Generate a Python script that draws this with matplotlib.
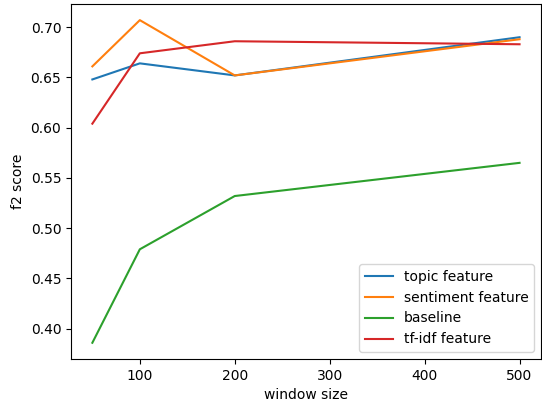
import matplotlib
matplotlib.use('Agg')
import matplotlib.pyplot as plt

window_sizes = [50, 100, 200, 500]
topic = [0.648, 0.664, 0.652, 0.690]
sentiment = [0.661, 0.707, 0.652, 0.688]
baseline = [0.386, 0.479, 0.532, 0.565]
tfidf = [0.604, 0.674, 0.686, 0.683]

fig, ax = plt.subplots(figsize=(5.42, 4.01), dpi=100)
ax.plot(window_sizes, topic, label='topic feature')
ax.plot(window_sizes, sentiment, label='sentiment feature')
ax.plot(window_sizes, baseline, label='baseline')
ax.plot(window_sizes, tfidf, label='tf-idf feature')
ax.set_xlabel('window size')
ax.set_ylabel('f2 score')
ax.legend(loc='lower right')

plt.subplots_adjust(left=0.131, right=0.998, top=0.99, bottom=0.105)
plt.savefig('out.png')
